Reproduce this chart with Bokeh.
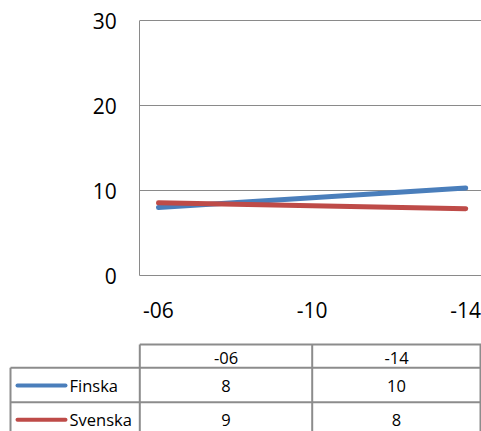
from bokeh.plotting import figure
from bokeh.models import Range1d, FixedTicker, LinearAxis
from bokeh.core.properties import value
from bokeh.embed import file_html
from bokeh.resources import INLINE

# ---- data ----
years = [2006, 2014]
tick_years = [2006, 2010, 2014]
tick_labels = ["-06", "-10", "-14"]
series_names = ["Finska", "Svenska"]
finska = [8.0, 10.3]
svenska = [8.55, 7.85]
y_ticks = [0, 10, 20, 30]
colors = ["#4A7EBB", "#BE4B48"]

FONT = "Open Sans"
GRID = "#8a8a8a"

# ---- layout constants (page pixels) ----
W, H = 481, 431
PX_PER_YEAR = 38.4
PX_PER_UNIT = 8.5
X_2006 = 158.0          # page x of the first category
Y_ZERO = 275.0          # page y of value 0
PLOT_LEFT = 139.3       # page x of the value axis

x0 = 2006 - X_2006 / PX_PER_YEAR
x1 = x0 + W / PX_PER_YEAR
y_top = (Y_ZERO) / PX_PER_UNIT
y_bot = -(H - Y_ZERO) / PX_PER_UNIT
chart_left = x0 + PLOT_LEFT / PX_PER_YEAR

p = figure(width=W, height=H, output_backend="svg", toolbar_location=None,
           x_range=Range1d(x0, x1), y_range=Range1d(y_bot, y_top),
           x_axis_location=None, y_axis_location=None, min_border=0)
p.outline_line_color = None
p.xgrid.grid_line_color = None
p.ygrid.grid_line_color = None
p.background_fill_color = "white"
p.border_fill_color = "white"

xax = LinearAxis(ticker=FixedTicker(ticks=tick_years),
                 major_label_overrides={y: l for y, l in zip(tick_years, tick_labels)},
                 fixed_location=0, bounds=(chart_left, x1))
yax = LinearAxis(ticker=FixedTicker(ticks=y_ticks), fixed_location=chart_left,
                 bounds=(0, 30))
for ax in (xax, yax):
    ax.major_tick_line_color = None
    ax.minor_tick_line_color = None
    ax.axis_line_color = GRID
    ax.axis_line_width = 1
    ax.major_label_text_font = FONT
    ax.major_label_text_font_size = "21px"
    ax.major_label_text_color = "#000000"
xax.major_label_standoff = 20
yax.major_label_standoff = 17
p.add_layout(xax, "below")
p.add_layout(yax, "left")

# horizontal gridlines from the value axis to the right edge
grid_vals = y_ticks[1:]
p.segment(x0=[chart_left] * len(grid_vals), y0=grid_vals,
          x1=[x1] * len(grid_vals), y1=grid_vals,
          line_color=GRID, line_width=1)

for vals, c in zip([finska, svenska], colors):
    p.line(years, vals, line_color=c, line_width=5, line_cap="round")

# ---- data table (page-pixel ranges) ----
p.extra_x_ranges = {"px": Range1d(0, W)}
p.extra_y_ranges = {"py": Range1d(H, 0)}

TL = "#8c8c8c"
hx0 = [139.3, 10, 10, 10]
hx1 = [481, 481, 481, 481]
hy = [344, 367.3, 401.7, 436]
vx = [10, 139.3, 311.7, 480]
vy0 = [367.3, 344, 344, 344]
vy1 = [440, 440, 440, 440]
p.segment(x0=hx0 + vx, y0=hy + vy0, x1=hx1 + vx, y1=hy + vy1,
          line_color=TL, line_width=2, x_range_name="px", y_range_name="py")

col_x = [225.5, 396]
header_y = 357.3
row_y = [385, 419.3]

txt = dict(text_font=value(FONT), text_font_size="16.5px",
           text_baseline="middle", text_color="#000000",
           x_range_name="px", y_range_name="py")

p.text(x=col_x, y=[header_y] * 2, text=[tick_labels[0], tick_labels[2]],
       text_align="center", **txt)

for i, (name, vals, c) in enumerate(zip(series_names, [finska, svenska], colors)):
    ry = row_y[i]
    p.segment(x0=[17], y0=[ry], x1=[65], y1=[ry], line_color=c, line_width=4,
              line_cap="round", x_range_name="px", y_range_name="py")
    p.text(x=[69], y=[ry], text=[name], text_align="left", **txt)
    p.text(x=col_x, y=[ry] * 2, text=[f"{int(v + 0.5)}" for v in vals],
           text_align="center", **txt)

open("out.html", "w").write(file_html(p, INLINE))
